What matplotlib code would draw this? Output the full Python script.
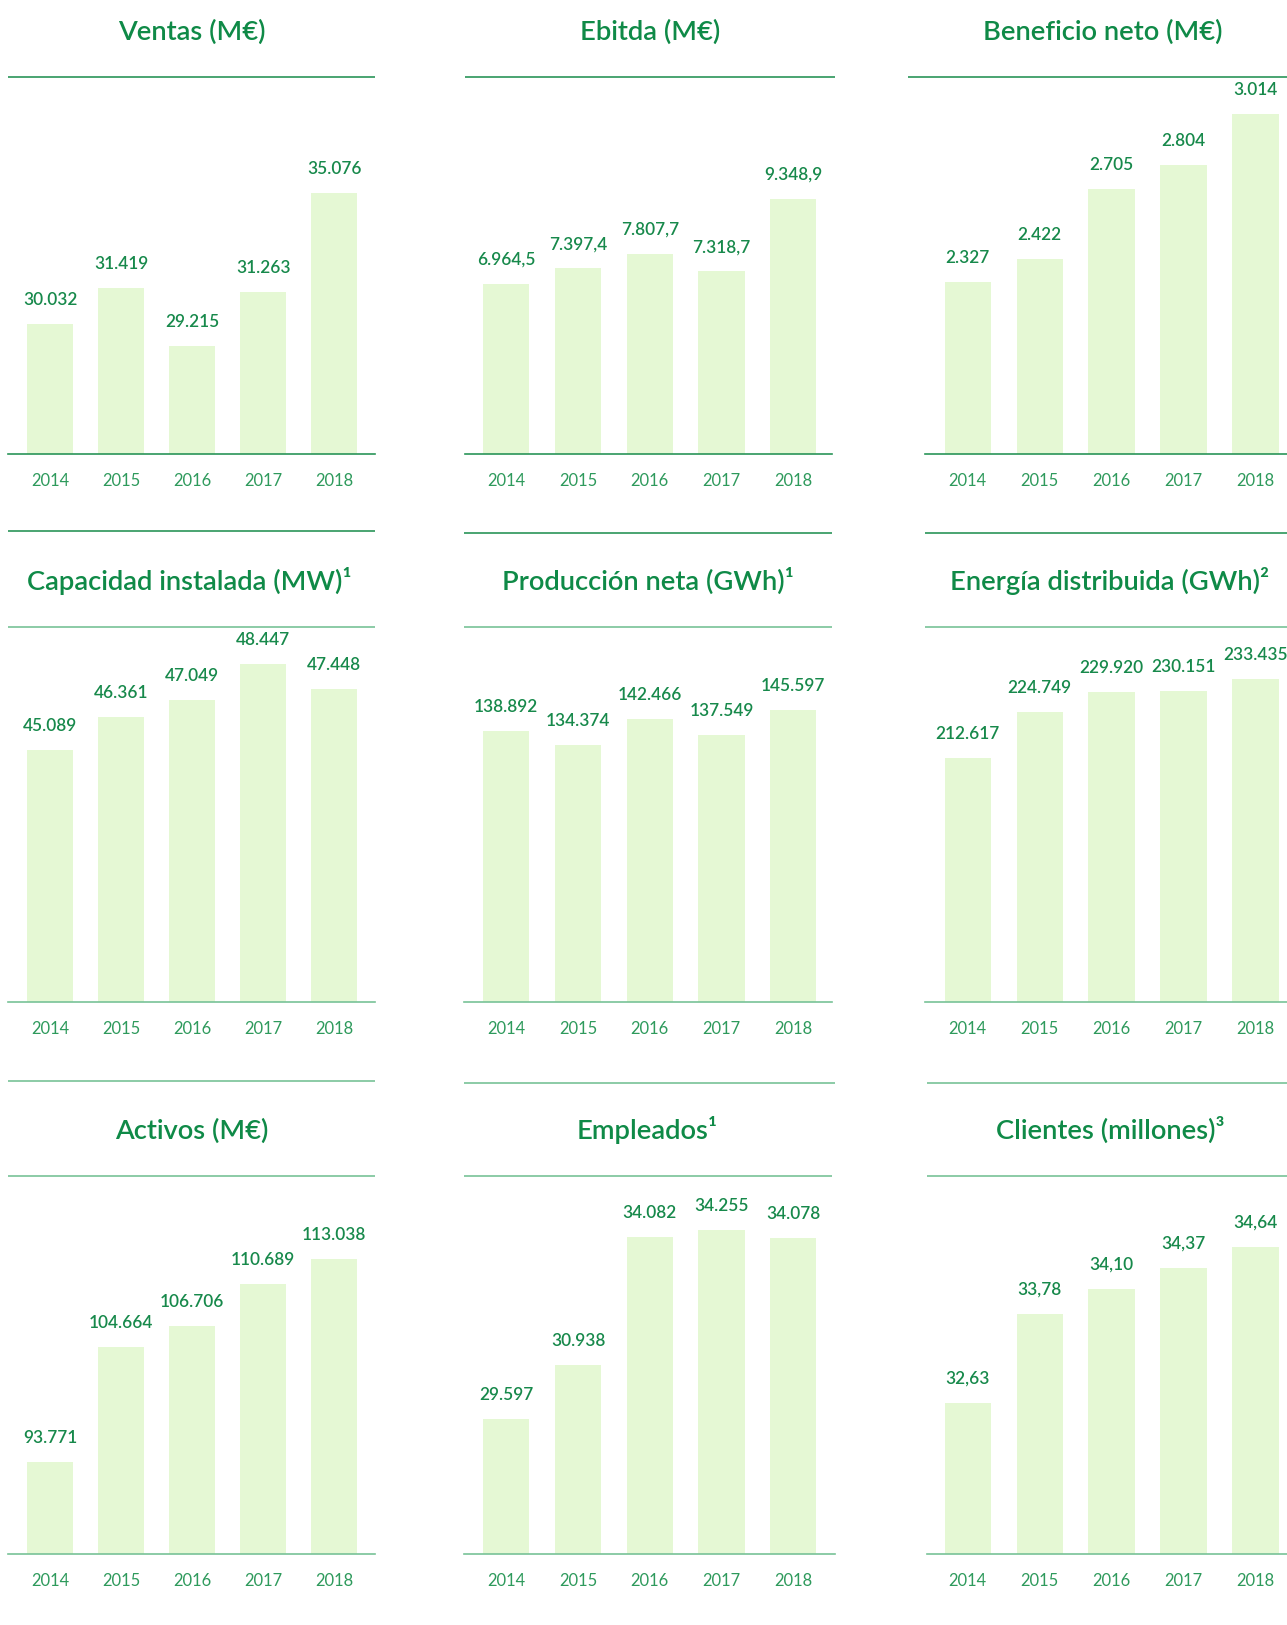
import matplotlib
matplotlib.use("Agg")
import matplotlib.pyplot as plt
from matplotlib.lines import Line2D

plt.rcParams['font.family'] = ['Lato', 'DejaVu Sans']

# ---------------- data ----------------
years = ['2014', '2015', '2016', '2017', '2018']

ventas = [30032, 31419, 29215, 31263, 35076]
ebitda = [6964.5, 7397.4, 7807.7, 7318.7, 9348.9]
beneficio = [2327, 2422, 2705, 2804, 3014]
capacidad = [45089, 46361, 47049, 48447, 47448]
produccion = [138892, 134374, 142466, 137549, 145597]
energia = [212617, 224749, 229920, 230151, 233435]
activos = [93771, 104664, 106706, 110689, 113038]
empleados = [29597, 30938, 34082, 34255, 34078]
clientes = [32.63, 33.78, 34.10, 34.37, 34.64]

titles = ['Ventas (M€)', 'Ebitda (M€)', 'Beneficio neto (M€)',
          'Capacidad instalada (MW)¹', 'Producción neta (GWh)¹', 'Energía distribuida (GWh)²',
          'Activos (M€)', 'Empleados¹', 'Clientes (millones)³']
series = [ventas, ebitda, beneficio, capacidad, produccion, energia, activos, empleados, clientes]
decimals = [0, 1, 0, 0, 0, 0, 0, 0, 2]

# ---------------- layout / style ----------------
W, H = 1287, 1625
DPI = 100
# per panel value-axis scale: (baseline value, pixels per unit)
scales = [(25074, 0.02611), (2217, 0.0358), (1626, 0.2451),
          (35283, 0.02569), (51153, 0.003094), (148056, 0.003784),
          (84953, 0.010504), (26249, 0.04045), (30.681, 77.69)]

row_base = [453.9, 1002.0, 1554.3]
row_axtop = [76.7, 626.9, 1176.0]
row_upper = [None, (530.5, 532.6, 532.6), (1080.8, 1082.9, 1082.9)]
row_title_y = [30.0, 580.3, 1129.5]
row_years_y = [479.8, 1028.0, 1580.2]
base_x = [[(8.3, 375), (465.3, 832), (925.4, 1287)],
          [(8.3, 375), (464.2, 832), (925.4, 1287)],
          [(8.3, 375), (464.2, 835.2), (927.4, 1287)]]
top_x = [[(8.3, 375), (465.3, 835.2), (907.7, 1287)],
         [(8.3, 375), (464.2, 832), (925.4, 1287)],
         [(8.3, 375), (464.2, 832), (927.4, 1287)]]
upper_x = [None,
           [(8.3, 375), (464.2, 832), (925.4, 1287)],
           [(8.3, 375), (464.2, 835.2), (927.4, 1287)]]
title_cx = [[191.7, 649.7, 1102.5], [189.6, 647.6, 1109.8], [191.7, 647.6, 1110.8]]
col_c0 = [50.3, 506.3, 967.8]
col_sp = [71.0, 71.75, 71.9]
bar_w_px = 46.3

C_TITLE = '#0f8a47'
C_VALUE = '#17894b'
C_YEAR = '#2e9a5c'
C_DARK = '#2a9559'
C_LIGHT = '#78c297'
C_BAR = '#e5f8d4'


def fmt(v, d):
    s = f"{v:,.{d}f}"
    return s.replace(',', 'X').replace('.', ',').replace('X', '.')


fig = plt.figure(figsize=(W / DPI, H / DPI), dpi=DPI)
fig.patch.set_facecolor('white')


def hline(x0, x1, y, color, lw=1.2):
    fig.add_artist(Line2D([x0 / W, x1 / W], [1 - y / H, 1 - y / H],
                          transform=fig.transFigure, color=color, lw=lw,
                          solid_capstyle='butt'))


px2pt = 72.0 / DPI

for i in range(9):
    r, c = divmod(i, 3)
    vals = series[i]
    v0, a = scales[i]
    xl, xr = base_x[r][c]
    yb = row_base[r]
    yt = row_axtop[r]
    ax = fig.add_axes([xl / W, 1 - yb / H, (xr - xl) / W, (yb - yt) / H])
    ax.set_facecolor('none')
    sp = col_sp[c]
    c0 = col_c0[c]
    xs = list(range(len(years)))
    ax.bar(xs, vals, width=bar_w_px / sp, color=C_BAR, bottom=0)
    ax.set_xlim((xl - c0) / sp, (xr - c0) / sp)
    ax.set_ylim(v0, v0 + (yb - yt) / a)
    for s in ['top', 'left', 'right']:
        ax.spines[s].set_visible(False)
    ax.spines['bottom'].set_color(C_DARK if r == 0 else C_LIGHT)
    ax.spines['bottom'].set_linewidth(1.2)
    ax.set_yticks([])
    ax.set_xticks([])
    for x, v in zip(xs, vals):
        ax.annotate(fmt(v, decimals[i]), xy=(x, v), xytext=(0, 19 * px2pt),
                    textcoords='offset points', ha='center', va='baseline',
                    fontsize=12.4, fontweight='semibold', color=C_VALUE)
        ax.annotate(years[x], xy=(x, 0), xycoords=('data', 'axes fraction'),
                    xytext=(0, -(row_years_y[r] + 5.9 - yb) * px2pt),
                    textcoords='offset points', ha='center', va='baseline',
                    fontsize=11.9, color=C_YEAR)
    # lines
    tx0, tx1 = top_x[r][c]
    hline(tx0, tx1, yt, C_DARK if r == 0 else C_LIGHT)
    if row_upper[r] is not None:
        ux0, ux1 = upper_x[r][c]
        hline(ux0, ux1, row_upper[r][c], C_DARK if r == 1 else C_LIGHT)
    # title
    fig.text(title_cx[r][c] / W, 1 - (row_title_y[r] + 9.8) / H, titles[i],
             ha='center', va='baseline', fontsize=19.7, fontweight='semibold',
             color=C_TITLE)

fig.savefig('out.png', dpi=DPI, facecolor='white')
